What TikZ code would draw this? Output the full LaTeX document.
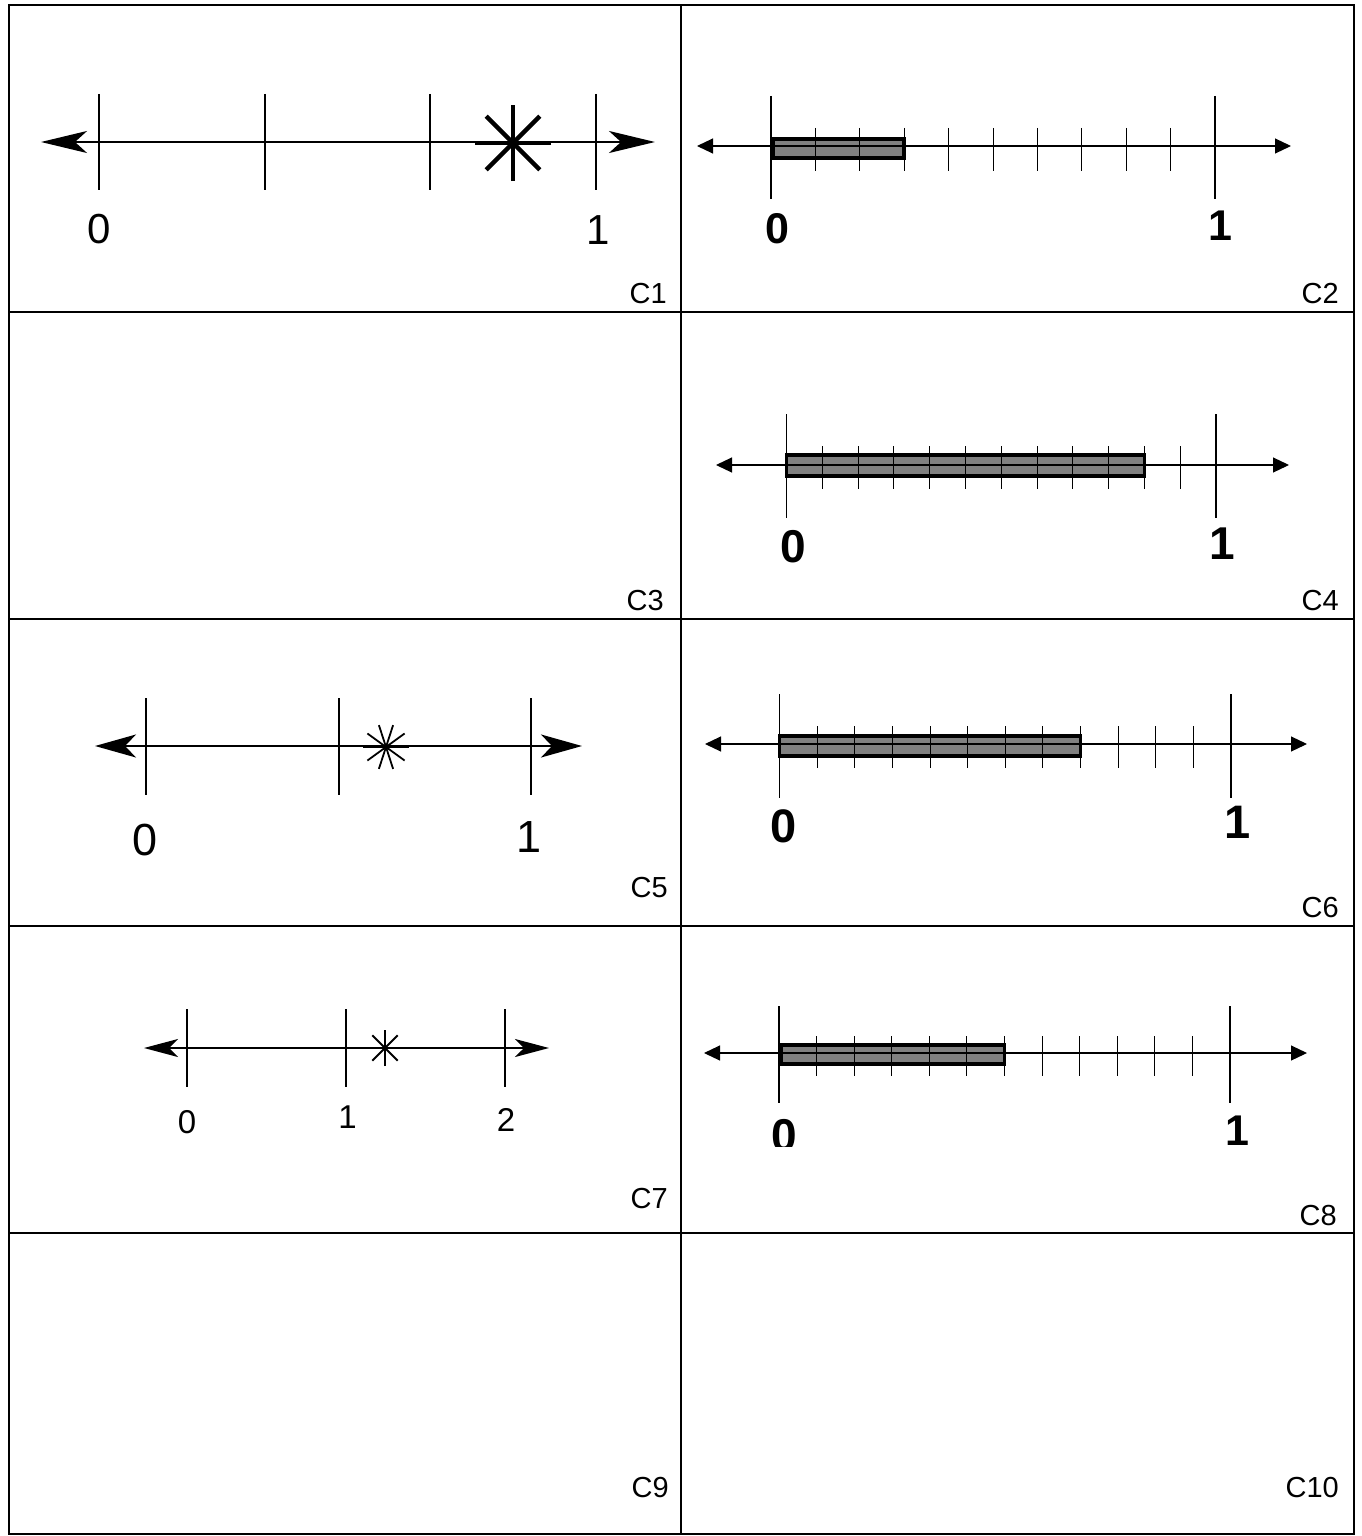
\documentclass[tikz,border=0pt]{standalone}
\usepackage{fontspec}
\setmainfont{Liberation Sans}
\usetikzlibrary{arrows.meta}
\begin{document}
\begin{tikzpicture}[x=1pt,y=-1pt,
  gridline/.style={line width=2.6pt},
  bigaxisA/.style={line width=2.2pt, arrows={Stealth[length=46pt,width=22pt,inset=12pt]-Stealth[length=46pt,width=22pt,inset=12pt]}},
  bigaxisB/.style={line width=2pt, arrows={Stealth[length=41pt,width=23pt,inset=11pt]-Stealth[length=41pt,width=23pt,inset=11pt]}},
  bigaxisC/.style={line width=1.8pt, arrows={Stealth[length=34pt,width=18pt,inset=9pt]-Stealth[length=34pt,width=18pt,inset=9pt]}},
  thinaxis/.style={line width=1.1pt, arrows={Triangle[length=16pt,width=15pt]-Triangle[length=16pt,width=15pt]}},
  bigtick/.style={line width=2.3pt},
  longtick/.style={line width=1.2pt},
  smalltick/.style={line width=1pt},
  bar/.style={draw=black, fill=black!50, line width=3.2pt},
  lab/.style={inner sep=0pt, anchor=base},
  cellid/.style={inner sep=0pt, anchor=base east, font=\fontsize{29}{29}\selectfont},
  astA/.style={line width=4.5pt},
  astB/.style={line width=1.8pt}
]
\useasboundingbox (0,0) rectangle (1361,1536);
\fill[white] (0,0) rectangle (1361,1536);

% grid
\draw[gridline] (9,5) rectangle (1354,1534);
\draw[gridline] (681,5) -- (681,1534);
\foreach \yy in {312,619,926,1233} \draw[gridline] (9,\yy) -- (1354,\yy);

% cell labels
\node[cellid] (c1) at (667,303) {C1};
\node[cellid] (c2) at (1339,303) {C2};
\node[cellid] (c3) at (664,610) {C3};
\node[cellid] (c4) at (1339,610) {C4};
\node[cellid] (c5) at (668,897) {C5};
\node[cellid] (c6) at (1339,917) {C6};
\node[cellid] (c7) at (668,1208) {C7};
\node[cellid] (c8) at (1337,1225) {C8};
\node[cellid] (c9) at (669,1497) {C9};
\node[cellid] (c10) at (1339,1497) {C10};

% ---------- C1 ----------
\draw[bigaxisA] (41,142) -- (655,142);
\foreach \xx in {99,265,430,596} \draw[bigtick] (\xx,94) -- (\xx,190);
\foreach \a in {0,45,90,135} \draw[astA] (513,143) ++(\a:38) -- ++(\a+180:76);
\node[lab, font=\fontsize{42}{42}\selectfont] (c1zero) at (99.5,243) {0};
\node[lab, font=\fontsize{42}{42}\selectfont] (c1one) at (598,244) {1};

% ---------- C2 ----------
\draw[bar] (773,139) rectangle (904,158);
\draw[thinaxis] (697,146) -- (1291,146);
\foreach \xx in {771,1215} \draw[longtick] (\xx,96) -- (\xx,199);
\foreach \k in {1,...,9} \draw[smalltick] ({771+44.4*\k},128) -- ({771+44.4*\k},171);
\node[lab, font=\fontsize{43}{43}\bfseries\selectfont] (c2zero) at (777,243) {0};
\node[lab, font=\fontsize{43}{43}\bfseries\selectfont] (c2one) at (1220.5,240) {1};

% ---------- C4 ----------
\draw[bar] (786.5,455) rectangle (1144.5,476);
\draw[thinaxis] (716,465) -- (1289,465);
\foreach \xx in {786.5,1216} \draw[longtick] (\xx,414) -- (\xx,518);
\foreach \k in {1,...,11} \draw[smalltick] ({786.5+35.79*\k},446) -- ({786.5+35.79*\k},489);
\node[lab, font=\fontsize{46}{46}\bfseries\selectfont] (c4zero) at (793,562) {0};
\node[lab, font=\fontsize{46}{46}\bfseries\selectfont] (c4one) at (1222.5,559) {1};

% ---------- C5 ----------
\draw[bigaxisB] (95,746) -- (582,746);
\foreach \xx in {146,339,531} \draw[bigtick] (\xx,698) -- (\xx,795);
\foreach \a in {0,36,72,108,144} \draw[astB] (386,747) ++(\a:23) -- ++(\a+180:46);
\node[lab, font=\fontsize{45}{45}\selectfont] (c5zero) at (145,855) {0};
\node[lab, font=\fontsize{45}{45}\selectfont] (c5one) at (529.5,852) {1};

% ---------- C6 ----------
\draw[bar] (779.6,736) rectangle (1080.6,756);
\draw[thinaxis] (705,744) -- (1307,744);
\foreach \xx in {779.6,1231} \draw[longtick] (\xx,694) -- (\xx,798);
\foreach \k in {1,...,11} \draw[smalltick] ({779.6+37.62*\k},726) -- ({779.6+37.62*\k},768);
\node[lab, font=\fontsize{47}{47}\bfseries\selectfont] (c6zero) at (784,842) {0};
\node[lab, font=\fontsize{47}{47}\bfseries\selectfont] (c6one) at (1237.5,838) {1};

% ---------- C7 ----------
\draw[bigaxisC] (144,1048) -- (549,1048);
\foreach \xx in {187,346,505} \draw[bigtick] (\xx,1009) -- (\xx,1087);
\foreach \a in {0,45,90,135} \draw[astB] (385,1048) ++(\a:18) -- ++(\a+180:36);
\node[lab, font=\fontsize{33}{33}\selectfont] (c7zero) at (187,1133) {0};
\node[lab, font=\fontsize{33}{33}\selectfont] (c7one) at (347.5,1128) {1};
\node[lab, font=\fontsize{33}{33}\selectfont] (c7two) at (506,1131) {2};

% ---------- C8 ----------
\draw[bar] (781,1045) rectangle (1004.5,1064);
\draw[thinaxis] (704,1053) -- (1307,1053);
\foreach \xx in {779,1230} \draw[longtick] (\xx,1006) -- (\xx,1103);
\foreach \k in {1,...,11} \draw[smalltick] ({779+37.58*\k},1036) -- ({779+37.58*\k},1076);
\begin{scope}
  \clip (740,1100) rectangle (830,1146);
  \node[lab, font=\fontsize{46}{46}\bfseries\selectfont] (c8zero) at (784,1151) {0};
\end{scope}
\node[lab, font=\fontsize{43}{43}\bfseries\selectfont] (c8one) at (1237.5,1145) {1};
\end{tikzpicture}
\end{document}
